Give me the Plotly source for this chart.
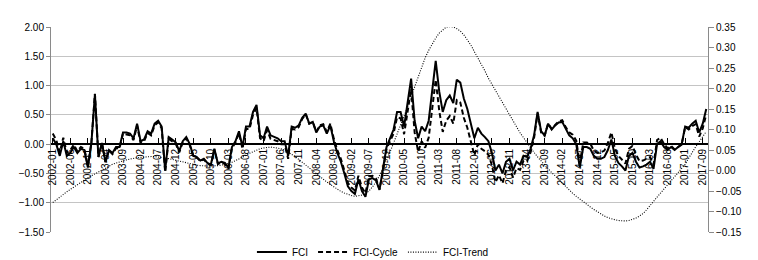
import pandas as pd
import plotly.graph_objects as go

months = [p.strftime("%Y-%m") for p in pd.period_range("2002-01", periods=187, freq="M")]

tick_labels = ["2002-01", "2002-06", "2002-11", "2003-04", "2003-09", "2004-02", "2004-07",
               "2004-12", "2005-05", "2005-10", "2006-03", "2006-08", "2007-01", "2007-06",
               "2007-11", "2008-04", "2008-09", "2009-02", "2009-07", "2009-12", "2010-05",
               "2010-10", "2011-03", "2011-08", "2012-01", "2012-06", "2012-11", "2013-04",
               "2013-09", "2014-02", "2014-07", "2014-12", "2015-05", "2015-10", "2016-03",
               "2016-08", "2017-01", "2017-09"]

fci = [0.10, 0.00, -0.20, 0.05, -0.20, -0.15, -0.05, -0.15, -0.08, -0.10,
       -0.40, 0.02, 0.85, -0.22, 0.02, -0.30, -0.10, -0.15, -0.05, -0.05,
       0.20, 0.20, 0.18, 0.10, 0.35, 0.05, 0.08, 0.22, 0.18, 0.35,
       0.40, 0.30, -0.45, 0.12, 0.08, 0.03, -0.12, 0.05, 0.12, 0.00,
       -0.20, -0.22, -0.28, -0.25, -0.32, -0.35, -0.08, -0.33, -0.30, -0.32,
       -0.40, -0.05, 0.05, 0.22, -0.05, 0.30, 0.30, 0.55, 0.67, 0.15,
       0.10, 0.30, 0.15, 0.13, 0.10, 0.05, 0.05, -0.20, 0.30, 0.28,
       0.32, 0.45, 0.52, 0.35, 0.38, 0.20, 0.30, 0.32, 0.18, 0.32,
       0.05, -0.15, -0.30, -0.50, -0.72, -0.80, -0.85, -0.60, -0.80, -0.90,
       -0.60, -0.58, -0.62, -0.78, -0.45, -0.05, 0.10, 0.25, 0.55, 0.55,
       0.30, 0.70, 1.12, 0.40, 0.10, 0.30, 0.22, 0.40, 0.95, 1.42,
       0.90, 0.55, 0.75, 0.83, 0.70, 1.10, 1.05, 0.78, 0.60, 0.35,
       0.10, 0.28, 0.18, 0.12, 0.05, -0.15, -0.45, -0.35, -0.50, -0.30,
       -0.25, -0.45, -0.30, -0.35, -0.20, -0.22, -0.08, 0.15, 0.55, 0.22,
       0.15, 0.35, 0.25, 0.32, 0.37, 0.38, 0.25, 0.15, 0.10, 0.00,
       -0.40, -0.05, -0.05, -0.08, -0.20, -0.25, -0.25, -0.22, -0.10, 0.08,
       -0.20, -0.32, -0.38, -0.45, -0.20, -0.15, -0.30, -0.40, -0.38, -0.35,
       -0.30, -0.42, 0.00, 0.05, -0.05, -0.10, -0.05, -0.10, -0.05, 0.00,
       0.30, 0.28, 0.35, 0.40, 0.20, 0.35, 0.60]

fci_cycle = [0.18, 0.07, -0.14, 0.11, -0.15, -0.10, -0.01, -0.12, -0.05, -0.08,
             -0.38, 0.03, 0.86, -0.22, 0.02, -0.31, -0.11, -0.17, -0.07, -0.07,
             0.18, 0.17, 0.15, 0.07, 0.32, 0.02, 0.05, 0.19, 0.15, 0.32,
             0.37, 0.27, -0.48, 0.09, 0.05, 0.01, -0.14, 0.03, 0.10, -0.02,
             -0.21, -0.23, -0.29, -0.26, -0.33, -0.36, -0.09, -0.34, -0.31, -0.34,
             -0.42, -0.07, 0.03, 0.19, -0.08, 0.26, 0.26, 0.50, 0.62, 0.10,
             0.05, 0.24, 0.09, 0.07, 0.05, 0.00, 0.00, -0.25, 0.26, 0.25,
             0.29, 0.43, 0.51, 0.35, 0.38, 0.21, 0.32, 0.34, 0.21, 0.35,
             0.09, -0.10, -0.25, -0.45, -0.66, -0.74, -0.79, -0.54, -0.74, -0.84,
             -0.55, -0.54, -0.59, -0.77, -0.46, -0.08, 0.06, 0.18, 0.46, 0.44,
             0.17, 0.55, 0.94, 0.20, -0.13, 0.05, -0.06, 0.11, 0.64, 1.10,
             0.57, 0.21, 0.40, 0.48, 0.35, 0.75, 0.71, 0.45, 0.28, 0.04,
             -0.19, 0.00, -0.08, -0.12, -0.18, -0.36, -0.65, -0.53, -0.67, -0.45,
             -0.39, -0.57, -0.41, -0.44, -0.28, -0.29, -0.14, 0.11, 0.52, 0.20,
             0.14, 0.35, 0.26, 0.33, 0.39, 0.41, 0.29, 0.20, 0.16, 0.06,
             -0.33, 0.03, 0.03, 0.01, -0.11, -0.15, -0.14, -0.11, 0.02, 0.20,
             -0.08, -0.20, -0.26, -0.33, -0.08, -0.03, -0.18, -0.29, -0.28, -0.25,
             -0.22, -0.35, 0.07, 0.11, 0.00, -0.07, -0.03, -0.09, -0.05, -0.01,
             0.29, 0.25, 0.31, 0.34, 0.13, 0.27, 0.51]

fci_trend = [-0.078, -0.071, -0.065, -0.058, -0.052, -0.046, -0.040, -0.034, -0.029, -0.023,
             -0.018, -0.013, -0.008, -0.003, 0.002, 0.007, 0.011, 0.015, 0.018, 0.021,
             0.024, 0.026, 0.028, 0.030, 0.031, 0.032, 0.033, 0.034, 0.034, 0.034,
             0.033, 0.032, 0.031, 0.029, 0.027, 0.025, 0.022, 0.020, 0.018, 0.016,
             0.014, 0.013, 0.012, 0.011, 0.011, 0.011, 0.011, 0.012, 0.013, 0.015,
             0.017, 0.020, 0.024, 0.028, 0.033, 0.037, 0.042, 0.046, 0.050, 0.053,
             0.055, 0.056, 0.057, 0.056, 0.055, 0.053, 0.050, 0.045, 0.040, 0.034,
             0.027, 0.020, 0.012, 0.005, -0.002, -0.009, -0.015, -0.022, -0.028, -0.034,
             -0.040, -0.046, -0.051, -0.055, -0.059, -0.061, -0.063, -0.062, -0.060, -0.056,
             -0.050, -0.040, -0.028, -0.012, 0.005, 0.025, 0.045, 0.067, 0.090, 0.110,
             0.130, 0.155, 0.180, 0.205, 0.230, 0.253, 0.275, 0.293, 0.310, 0.323,
             0.335, 0.343, 0.350, 0.351, 0.350, 0.346, 0.340, 0.331, 0.320, 0.306,
             0.290, 0.275, 0.260, 0.243, 0.225, 0.210, 0.195, 0.180, 0.165, 0.150,
             0.135, 0.120, 0.105, 0.092, 0.080, 0.067, 0.055, 0.044, 0.033, 0.023,
             0.013, 0.004, -0.005, -0.013, -0.022, -0.031, -0.040, -0.048, -0.056, -0.063,
             -0.070, -0.077, -0.083, -0.089, -0.095, -0.101, -0.106, -0.111, -0.115, -0.118,
             -0.120, -0.122, -0.123, -0.123, -0.122, -0.119, -0.116, -0.111, -0.105, -0.096,
             -0.085, -0.075, -0.065, -0.055, -0.045, -0.035, -0.025, -0.015, -0.005, 0.005,
             0.015, 0.030, 0.045, 0.058, 0.070, 0.083, 0.095]

FONT = "Liberation Sans, Arial, sans-serif"

fig = go.Figure()
fig.add_trace(go.Scatter(x=months, y=fci, name="FCI", mode="lines",
                         line=dict(color="#000000", width=2)))
fig.add_trace(go.Scatter(x=months, y=fci_cycle, name="FCI-Cycle", mode="lines",
                         line=dict(color="#000000", width=2, dash="5px,3px")))
fig.add_trace(go.Scatter(x=months, y=fci_trend, name="FCI-Trend", mode="lines", yaxis="y2",
                         line=dict(color="#000000", width=1.1, dash="1px,1.5px")))

fig.update_layout(
    width=758, height=260,
    margin=dict(l=43, r=58, t=19, b=36, autoexpand=False),
    paper_bgcolor="white", plot_bgcolor="white",
    font=dict(family=FONT, size=10, color="#000000"),
    showlegend=True,
    legend=dict(orientation="h", x=0.49, xanchor="center", y=-0.098, yanchor="middle",
                font=dict(family=FONT, size=10), itemwidth=30, tracegroupgap=0,
                bgcolor="rgba(0,0,0,0)"),
    xaxis=dict(type="category", categoryorder="array", categoryarray=months,
               range=[-0.5, len(months) - 0.5],
               anchor="free", position=1.5 / 3.5,
               showline=True, linecolor="#000000", linewidth=1.5,
               ticks="inside", ticklen=5, tickcolor="#000000", tickwidth=1,
               tickvals=months[::5], ticktext=tick_labels, tickangle=-90,
               tickfont=dict(family="Liberation Sans Narrow, Arial Narrow, Liberation Sans, sans-serif", size=10),
               showgrid=False, zeroline=False, automargin=False),
    yaxis=dict(range=[-1.5, 2.0], dtick=0.5, tick0=0, tickformat=".2f",
               showgrid=True, gridcolor="#c4c4c4", gridwidth=1,
               showline=True, linecolor="#8a8a8a", linewidth=1,
               ticks="outside", ticklen=4, tickcolor="#8a8a8a",
               zeroline=False, automargin=False, tickfont=dict(size=10)),
    yaxis2=dict(range=[-0.15, 0.35], dtick=0.05, tick0=0, tickformat=".2f",
                overlaying="y", side="right", anchor="x",
                showgrid=False, showline=True, linecolor="#8a8a8a", linewidth=1,
                ticks="outside", ticklen=5, tickcolor="#8a8a8a",
                zeroline=False, automargin=False, tickfont=dict(size=10)),
)

fig.write_html("out.html")
